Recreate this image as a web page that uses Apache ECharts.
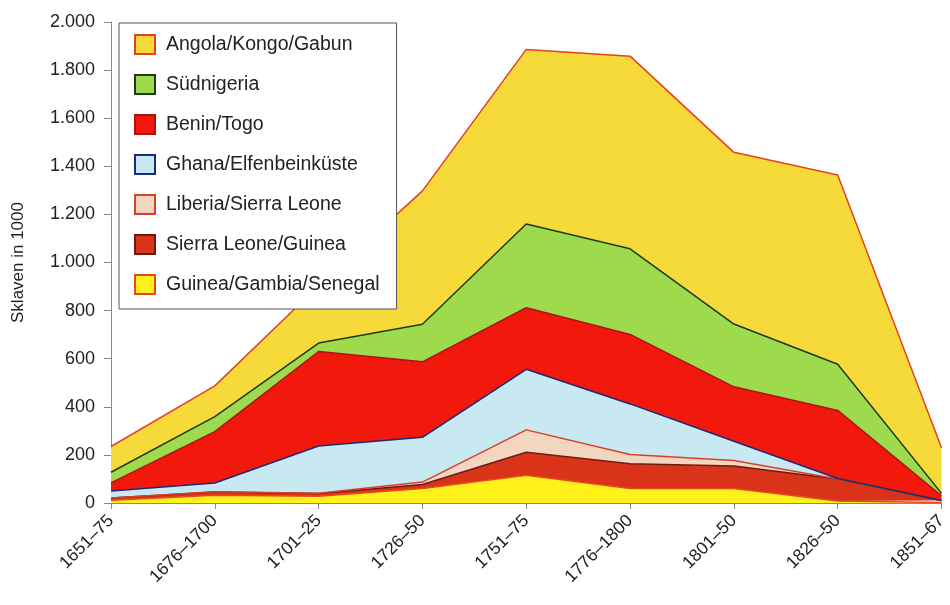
<!DOCTYPE html>
<html>
<head>
<meta charset="utf-8">
<script src="https://cdn.jsdelivr.net/npm/echarts@6/dist/echarts.min.js"></script>
<style>
    html, body { margin: 0; padding: 0; background: #fff; }
    #main { width: 950px; height: 605px; }
</style>
</head>
<body>
<div id="main"></div>
<script type="text/javascript">
    // Zeiträume (x-Achse)
    const perioden = ['1651–75', '1676–1700', '1701–25', '1726–50', '1751–75', '1776–1800', '1801–50', '1826–50', '1851–67'];

    // Sklaven in 1000, je Region (von unten nach oben gestapelt)
    const guineaGambiaSenegal = [11, 32, 28, 60, 115, 60, 60, 8, 2];
    const sierraLeoneGuinea   = [10, 14, 11, 17, 96, 103, 94, 92, 8];
    const liberiaSierraLeone  = [0, 1, 2, 10, 93, 39, 23, 0, 0];
    const ghanaElfenbein      = [29, 36, 196, 186, 252, 210, 80, 2, 0];
    const beninTogo           = [34, 214, 393, 314, 256, 289, 226, 283, 20];
    const suednigeria         = [44, 62, 35, 156, 348, 356, 261, 192, 10];
    const angolaKongoGabun    = [107, 128, 238, 555, 726, 801, 714, 787, 190];

    const yTicks = [0, 200, 400, 600, 800, 1000, 1200, 1400, 1600, 1800, 2000];

    const font = 'Liberation Sans, Arial, Helvetica, sans-serif';

    // Name, Daten, Füllfarbe, Randfarbe
    const regionen = [
        ['Guinea/Gambia/Senegal', guineaGambiaSenegal, '#fff21a', '#e8481c'],
        ['Sierra Leone/Guinea', sierraLeoneGuinea, '#d9341a', '#6e1a10'],
        ['Liberia/Sierra Leone', liberiaSierraLeone, '#f3d6c0', '#d9402a'],
        ['Ghana/Elfenbeinküste', ghanaElfenbein, '#c8e8f2', '#1c2a7a'],
        ['Benin/Togo', beninTogo, '#f2190c', '#b01010'],
        ['Südnigeria', suednigeria, '#9edb4c', '#1e3a1a'],
        ['Angola/Kongo/Gabun', angolaKongoGabun, '#f5da3a', '#e2421e']
    ];

    function tausender(v) {
        return String(v).replace(/\B(?=(\d{3})+(?!\d))/g, '.');
    }

    let seriesList = [];
    let legendData = [];
    for (let i = 0; i < regionen.length; i++) {
        const r = regionen[i];
        seriesList.push({
            name: r[0],
            type: 'line',
            stack: 'gesamt',
            data: r[1],
            symbol: 'none',
            smooth: false,
            lineStyle: { color: r[3], width: 1.5 },
            itemStyle: { color: r[2], borderColor: r[3] },
            areaStyle: { color: r[2], opacity: 1 },
            z: 2
        });
    }
    // Legende von oben nach unten
    for (let i = regionen.length - 1; i >= 0; i--) {
        const r = regionen[i];
        legendData.push({
            name: r[0],
            icon: 'rect',
            itemStyle: { color: r[2], borderColor: r[3], borderWidth: 2 }
        });
    }

    let myChart = echarts.init(document.getElementById('main'));

    let option = {
        animation: false,
        backgroundColor: '#fff',
        grid: {
            left: 111,
            right: 4,
            top: 22,
            bottom: 102
        },
        legend: {
            orient: 'vertical',
            left: 119,
            top: 23,
            data: legendData,
            itemWidth: 20,
            itemHeight: 19,
            itemGap: 19,
            padding: [11, 17, 14, 15],
            backgroundColor: '#fff',
            borderColor: '#555',
            borderWidth: 1,
            selectedMode: false,
            textStyle: {
                fontFamily: font,
                fontSize: 19.5,
                lineHeight: 20,
                color: '#222',
                padding: [0, 0, 0, 6]
            },
            z: 10
        },
        xAxis: {
            type: 'category',
            boundaryGap: false,
            data: perioden,
            axisLine: { lineStyle: { color: '#888', width: 1 } },
            axisTick: { show: true, length: 6, lineStyle: { color: '#888' } },
            axisLabel: {
                rotate: 45,
                margin: 15,
                fontFamily: font,
                fontSize: 17.5,
                color: '#222',
                interval: 0
            },
            splitLine: { show: false }
        },
        yAxis: {
            type: 'value',
            min: 0,
            max: 2000,
            interval: 200,
            name: 'Sklaven in 1000',
            nameLocation: 'middle',
            nameGap: 84,
            nameTextStyle: {
                fontFamily: font,
                fontSize: 17,
                color: '#222'
            },
            axisLine: { show: true, lineStyle: { color: '#888', width: 1 } },
            axisTick: { show: true, length: 7, lineStyle: { color: '#888' } },
            axisLabel: {
                margin: 16,
                fontFamily: font,
                fontSize: 18,
                color: '#222',
                formatter: function (v) {
                    return yTicks.indexOf(v) >= 0 ? tausender(v) : '';
                }
            },
            splitLine: { show: false }
        },
        series: seriesList
    };
    myChart.setOption(option);
</script>
</body>
</html>
